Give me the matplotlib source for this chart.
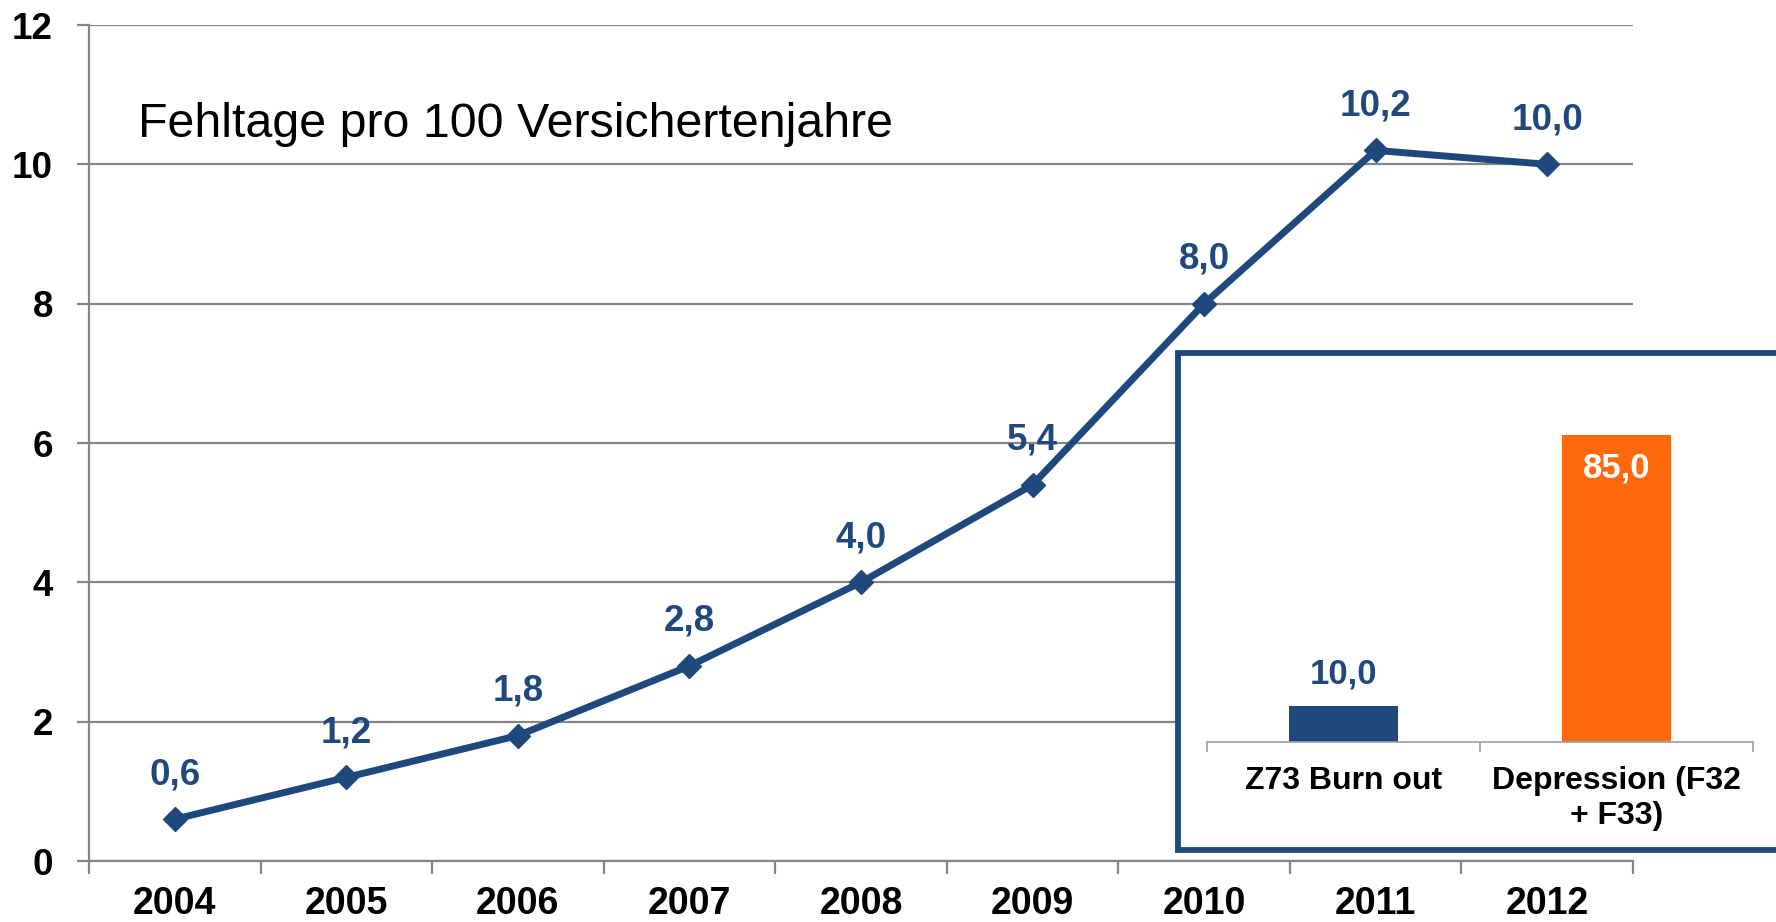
import numpy as np
import matplotlib
matplotlib.use('Agg')
import matplotlib.pyplot as plt
from matplotlib.patches import Rectangle

plt.rcParams['font.family'] = ['Liberation Sans', 'DejaVu Sans']

NAVY = '#1F497D'
ORANGE = '#FF690C'
GRAY = '#868686'

# main chart: sick days per 100 insured years
years = ['2004', '2005', '2006', '2007', '2008', '2009', '2010', '2011', '2012']
days = [0.6, 1.2, 1.8, 2.8, 4.0, 5.4, 8.0, 10.2, 10.0]
y_ticks = [0, 2, 4, 6, 8, 10, 12]
title = 'Fehltage pro 100 Versichertenjahre'

# inset comparison
inset_labels = ['Z73 Burn out', 'Depression (F32\n+ F33)']
inset_values = [10.0, 85.0]
inset_colors = [NAVY, ORANGE]
inset_text_colors = [NAVY, 'white']

W, H = 1776, 922


def px_rect(left, top, right, bottom):
    return [left / W, 1 - bottom / H, (right - left) / W, (bottom - top) / H]


def fmt(v):
    return f'{v:.1f}'.replace('.', ',')


fig = plt.figure(figsize=(W / 100, H / 100), dpi=100)

ax = fig.add_axes(px_rect(89, 25, 1633, 861))
x = np.arange(len(years))
ax.plot(x, days, color=NAVY, lw=5, marker='D', ms=12.5, zorder=3)
for xi, v in zip(x, days):
    ax.annotate(fmt(v), (xi, v), xytext=(0, 32), textcoords='offset points',
                ha='center', va='center', fontsize=26.5, fontweight='bold', color=NAVY)

ax.set_xlim(-0.5, len(years) - 0.5)
ax.set_ylim(0, 12)
ax.set_yticks(y_ticks)
ax.set_yticklabels([str(t) for t in y_ticks], fontsize=26.5, fontweight='bold')
ax.grid(axis='y', color=GRAY, lw=1.6)
ax.set_axisbelow(True)

ax.set_xticks(np.arange(-0.5, len(years), 1))
ax.set_xticklabels([])
ax.set_xticks(x, minor=True)
ax.set_xticklabels(years, minor=True, fontsize=27, fontweight='bold')
ax.tick_params(axis='x', which='major', length=9, width=1.6, color=GRAY, direction='out')
ax.tick_params(axis='x', which='minor', length=0, pad=18)
ax.tick_params(axis='y', length=9, width=1.6, color=GRAY, pad=17)

for side in ['top', 'right']:
    ax.spines[side].set_visible(False)
for side in ['left', 'bottom']:
    ax.spines[side].set_color(GRAY)
    ax.spines[side].set_linewidth(1.6)

ax.text(0.032, 0.866, title, transform=ax.transAxes, fontsize=34.8, va='baseline', ha='left')

# framed inset box
box = Rectangle((1178 / W, 1 - 850 / H), (1800 - 1178) / W, (850 - 353) / H,
                transform=fig.transFigure, facecolor='white', edgecolor=NAVY, lw=4.2, zorder=1.5)
fig.add_artist(box)

ax2 = fig.add_axes(px_rect(1207, 399, 1753, 742))
ax2.set_zorder(2)
ax2.patch.set_visible(False)
xi2 = np.arange(len(inset_values))
ax2.bar(xi2, inset_values, width=0.4, color=inset_colors)
for xv, v, c, tc in zip(xi2, inset_values, inset_colors, inset_text_colors):
    off = 23 if tc != 'white' else -24
    ax2.annotate(fmt(v), (xv, v), xytext=(0, off), textcoords='offset points',
                 ha='center', va='center', fontsize=25, fontweight='bold', color=tc)
ax2.set_xlim(-0.5, 1.5)
ax2.set_ylim(0, 95)
ax2.set_yticks([])
ax2.set_xticks([-0.5, 0.5, 1.5])
ax2.set_xticklabels([])
ax2.set_xticks(xi2, minor=True)
ax2.set_xticklabels(inset_labels, minor=True, fontsize=23, fontweight='bold', linespacing=1.25)
ax2.tick_params(axis='x', which='major', length=7, width=1.2, color='#A0A0A0')
ax2.tick_params(axis='x', which='minor', length=0, pad=17)
for side in ['top', 'right', 'left']:
    ax2.spines[side].set_visible(False)
ax2.spines['bottom'].set_color('#A0A0A0')
ax2.spines['bottom'].set_linewidth(1.2)

fig.savefig('out.png', dpi=100)
